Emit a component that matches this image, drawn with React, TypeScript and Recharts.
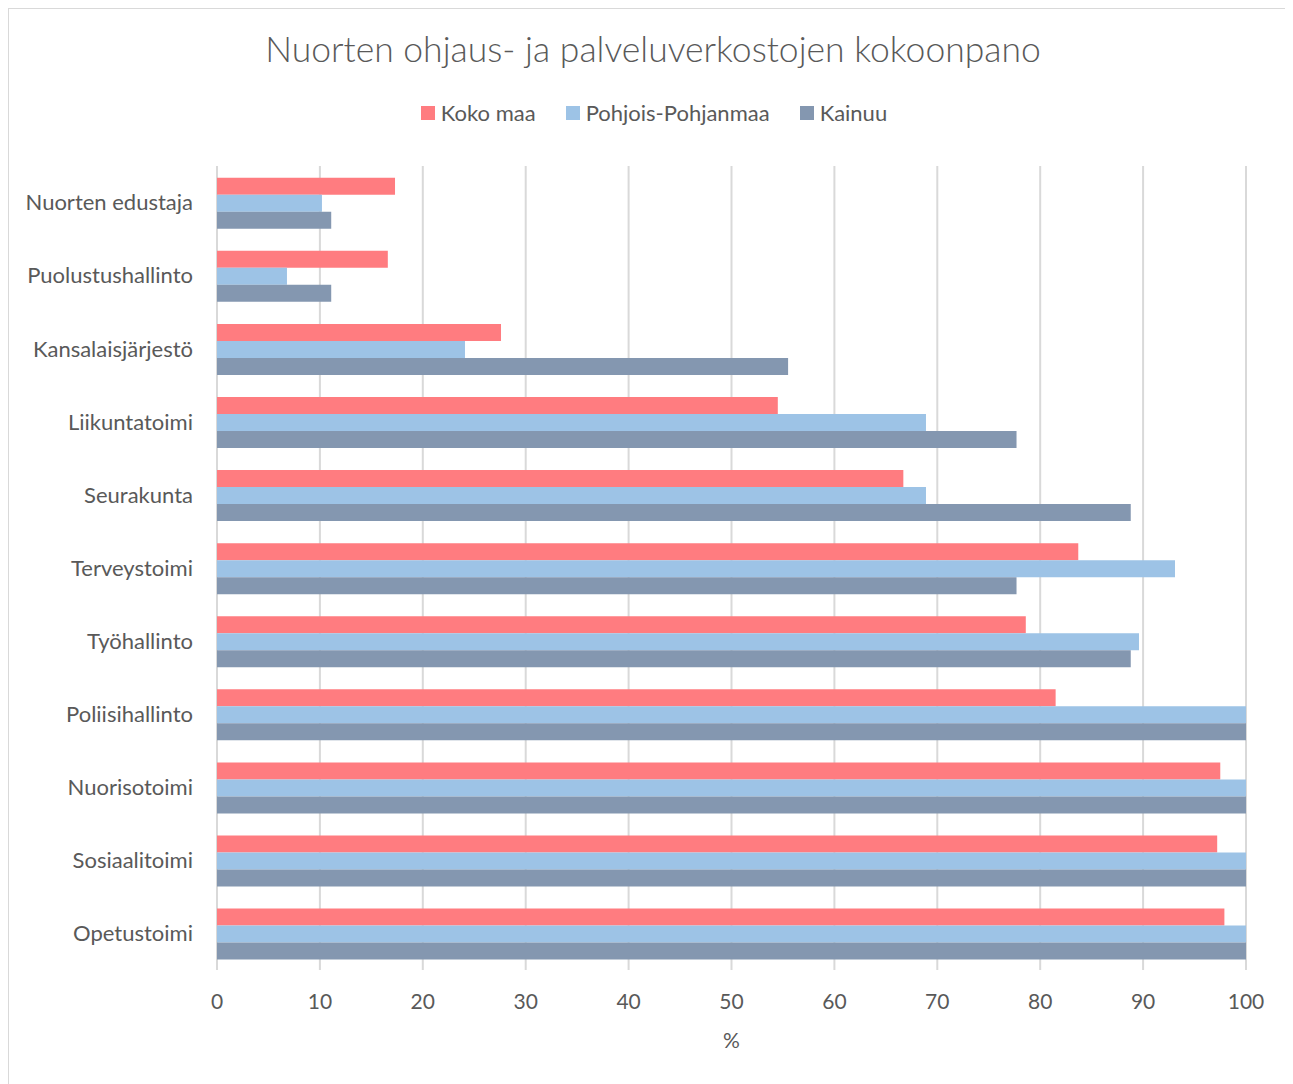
import React from "react";
import { Bar, BarChart, CartesianGrid, XAxis, YAxis } from "recharts";

const categories = [
  "Nuorten edustaja",
  "Puolustushallinto",
  "Kansalaisjärjestö",
  "Liikuntatoimi",
  "Seurakunta",
  "Terveystoimi",
  "Työhallinto",
  "Poliisihallinto",
  "Nuorisotoimi",
  "Sosiaalitoimi",
  "Opetustoimi",
];

const kokoMaa = [17.3, 16.6, 27.6, 54.5, 66.7, 83.7, 78.6, 81.5, 97.5, 97.2, 97.9];
const pohjoisPohjanmaa = [10.2, 6.8, 24.1, 68.9, 68.9, 93.1, 89.6, 100, 100, 100, 100];
const kainuu = [11.1, 11.1, 55.5, 77.7, 88.8, 77.7, 88.8, 100, 100, 100, 100];

const xTicks = [0, 10, 20, 30, 40, 50, 60, 70, 80, 90, 100];

const series = [
  { key: "koko", name: "Koko maa", color: "#ff7c80" },
  { key: "pohjois", name: "Pohjois-Pohjanmaa", color: "#9dc3e6" },
  { key: "kainuu", name: "Kainuu", color: "#8497b0" },
];

const data = categories.map((name, i) => ({
  name,
  koko: kokoMaa[i],
  pohjois: pohjoisPohjanmaa[i],
  kainuu: kainuu[i],
}));

const FONT = "Lato, 'Open Sans', sans-serif";
const TEXT = "#595959";

const App = () => {
  return (
    <div
      style={{
        position: "relative",
        width: 1284,
        height: 1076,
        border: "1px solid #d9d9d9",
        fontFamily: FONT,
        background: "#fff",
      }}
    >
      <div
        style={{
          position: "absolute",
          top: 18,
          left: 2,
          width: "100%",
          textAlign: "center",
          fontSize: 35.5,
          fontWeight: 300,
          color: TEXT,
        }}
      >
        Nuorten ohjaus- ja palveluverkostojen kokoonpano
      </div>
      {/* legend, kept outside the chart so it does not shift the plot */}
      <div
        style={{
          position: "absolute",
          top: 90,
          left: 0,
          width: "100%",
          display: "flex",
          justifyContent: "center",
          gap: 30,
          fontSize: 22,
          color: TEXT,
          marginLeft: 3,
        }}
      >
        {series.map((s) => (
          <div key={s.key} style={{ display: "flex", alignItems: "center" }}>
            <span
              style={{
                display: "inline-block",
                width: 14,
                height: 14,
                background: s.color,
                marginRight: 6,
              }}
            />
            {s.name}
          </div>
        ))}
      </div>
      <BarChart
        width={1284}
        height={1076}
        layout="vertical"
        data={data}
        barGap={0}
        barCategoryGap="16%"
        margin={{ top: 157, right: 47, left: 0, bottom: 25 }}
        style={{ position: "absolute", top: 0, left: 0 }}
      >
        <CartesianGrid horizontal={false} stroke="#d9d9d9" strokeWidth={2} />
        <XAxis
          type="number"
          domain={[0, 100]}
          ticks={xTicks}
          axisLine={false}
          tickLine={false}
          tickSize={0}
          tickMargin={24}
          height={90}
          tick={{ fill: TEXT, fontSize: 21, fontFamily: FONT }}
          label={{
            value: "%",
            position: "insideBottom",
            offset: 12,
            fill: TEXT,
            fontSize: 21,
            fontFamily: FONT,
          }}
        />
        <YAxis
          type="category"
          dataKey="name"
          width={208}
          axisLine={false}
          tickLine={false}
          tickSize={0}
          tickMargin={24}
          tick={{ fill: TEXT, fontSize: 22, fontFamily: FONT }}
        />
        {series.map((s) => (
          <Bar
            key={s.key}
            dataKey={s.key}
            name={s.name}
            fill={s.color}
            isAnimationActive={false}
          />
        ))}
      </BarChart>
    </div>
  );
};

export default App;
